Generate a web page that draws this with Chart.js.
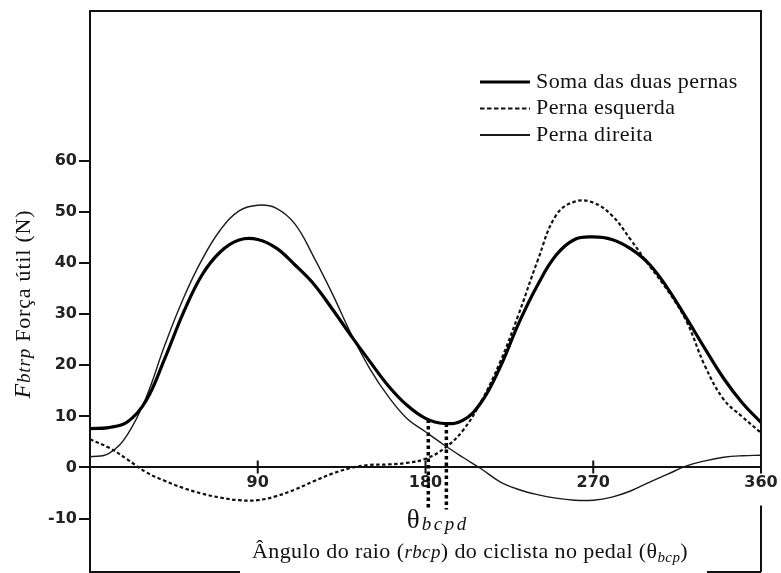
<!DOCTYPE html>
<html>
<head>
<meta charset="utf-8">
<title>Força útil ao longo do ciclo de pedalada</title>
<style>
  html, body { margin: 0; padding: 0; background: #ffffff; }
  #wrap { width: 781px; height: 573px; }
</style>
<script src="https://cdn.jsdelivr.net/npm/chart.js@4.4.1/dist/chart.umd.min.js"></script>
</head>
<body>
<div id="wrap"><canvas id="chart" width="781" height="573"></canvas></div>
<script>
// Crank angle (degrees) at which each force value is given
const angles = [0, 10, 20, 30, 40, 50, 60, 70, 80, 90, 100, 110, 120, 130, 140, 150, 160, 170, 180,
                190, 200, 210, 220, 230, 240, 250, 260, 270, 280, 290, 300, 310, 320, 330, 340, 350, 360];

// Useful force (N) – sum of both legs
const sumLegs = [7.6, 7.8, 8.9, 13.0, 21.2, 30.2, 37.6, 42.2, 44.5, 44.6, 42.9, 39.6, 35.9, 31.0, 25.8, 20.8, 16.0, 12.2, 9.6,
                 8.6, 9.2, 12.8, 19.6, 28.2, 35.6, 41.5, 44.6, 45.1, 44.6, 42.8, 39.8, 35.0, 29.2, 23.2, 17.4, 12.6, 8.8];

// Useful force (N) – left leg
const leftLeg = [5.5, 3.9, 1.6, -0.9, -2.6, -4.0, -5.1, -5.9, -6.4, -6.4, -5.6, -4.3, -2.7, -1.2, -0.1, 0.5, 0.6, 0.9, 1.7,
                 3.7, 7.2, 13.0, 20.6, 30.0, 40.3, 49.3, 52.0, 51.8, 49.3, 44.6, 39.5, 34.6, 28.6, 19.8, 13.3, 9.9, 6.8];

// Useful force (N) – right leg
const rightLeg = [2.1, 2.7, 6.4, 13.6, 23.8, 33.0, 40.6, 46.5, 50.2, 51.3, 50.7, 47.6, 41.2, 34.0, 26.2, 19.4, 13.9, 9.6, 7.0,
                  4.4, 2.0, -0.3, -2.8, -4.3, -5.3, -6.0, -6.4, -6.4, -5.8, -4.6, -2.9, -1.3, 0.3, 1.3, 2.0, 2.3, 2.4];

const seriesLabels = ['Soma das duas pernas', 'Perna esquerda', 'Perna direita'];

// Tick labels on both axes
const xTickValues = [90, 180, 270, 360];
const yTickValues = [-10, 0, 10, 20, 30, 40, 50, 60];

// Angles marked θbcpd (dotted drop lines from the minimum of the sum curve)
const markerAngles = [181.5, 191.2];
const markerTops = [9.4, 8.6];
const markerBottom = -8.2;

const ink = '#111111';
const serif = '"Liberation Serif", "Times New Roman", serif';
const tickFont = { family: 'DejaVu Sans', weight: 'bold', size: 16 };

function points(values) {
  return angles.map((a, i) => ({ x: a, y: values[i] }));
}

// Draws a run of text pieces with different fonts one after another
function runWidth(ctx, parts) {
  let w = 0;
  parts.forEach(p => { ctx.font = p.font; w += ctx.measureText(p.text).width; });
  return w;
}
function drawRun(ctx, parts, x, y) {
  let cx = x;
  parts.forEach(p => {
    ctx.font = p.font;
    ctx.fillText(p.text, cx, y + (p.dy || 0));
    cx += ctx.measureText(p.text).width;
  });
}

// Frame around the plot and tick marks crossing the zero line
const framePlugin = {
  id: 'frame',
  afterDraw(chart) {
    const { ctx, chartArea: a, scales: { x, y } } = chart;
    const z = y.getPixelForValue(0);
    ctx.save();
    ctx.strokeStyle = ink;
    ctx.lineWidth = 2;
    ctx.beginPath();
    ctx.moveTo(a.left - 1, a.top);
    ctx.lineTo(a.right + 1, a.top);
    ctx.moveTo(a.right, a.top);
    ctx.lineTo(a.right, z + 3);
    ctx.moveTo(a.right, z + 38);
    ctx.lineTo(a.right, a.bottom);
    ctx.moveTo(a.left, a.bottom);
    ctx.lineTo(a.left + 150, a.bottom);
    ctx.moveTo(a.right - 54, a.bottom);
    ctx.lineTo(a.right, a.bottom);
    ctx.stroke();
    ctx.beginPath();
    xTickValues.forEach(v => {
      const px = x.getPixelForValue(v);
      ctx.moveTo(px, z - 7);
      ctx.lineTo(px, z + 6);
    });
    ctx.stroke();
    ctx.restore();
  }
};

// Legend in the upper right corner of the plot
const legendPlugin = {
  id: 'cornerLegend',
  afterDraw(chart) {
    const { ctx, chartArea: a } = chart;
    const x0 = a.right - 281, x1 = a.right - 231, tx = a.right - 225;
    const rows = [a.top + 71, a.top + 97.5, a.top + 124];
    ctx.save();
    ctx.textBaseline = 'middle';
    ctx.textAlign = 'left';
    ctx.fillStyle = ink;
    chart.data.datasets.slice(0, 3).forEach((ds, i) => {
      ctx.strokeStyle = ds.borderColor;
      ctx.lineWidth = Math.max(ds.borderWidth, 2);
      ctx.setLineDash(ds.borderDash ? [4.5, 2.5] : []);
      ctx.beginPath();
      ctx.moveTo(x0, rows[i]);
      ctx.lineTo(x1, rows[i]);
      ctx.stroke();
      ctx.setLineDash([]);
      ctx.font = '22px ' + serif;
      ctx.letterSpacing = '0.4px';
      ctx.fillText(ds.label, tx, rows[i]);
    });
    ctx.restore();
  }
};

// Axis titles and the θbcpd mark
const titlesPlugin = {
  id: 'titles',
  afterDraw(chart) {
    const { ctx, chartArea: a, scales: { x, y } } = chart;
    ctx.save();
    ctx.fillStyle = ink;
    ctx.textAlign = 'left';
    ctx.textBaseline = 'alphabetic';

    // y title, rotated
    ctx.letterSpacing = '0.8px';
    const yParts = [
      { text: 'F', font: 'italic 24px ' + serif },
      { text: 'btrp', font: 'italic 19px ' + serif },
      { text: ' Força útil (N)', font: '22px ' + serif }
    ];
    const yw = runWidth(ctx, yParts);
    ctx.save();
    ctx.translate(23, 304);
    ctx.rotate(-Math.PI / 2);
    drawRun(ctx, yParts, -yw / 2, 7);
    ctx.restore();

    // x title
    ctx.letterSpacing = '0.4px';
    const xParts = [
      { text: 'Ângulo do raio (', font: '22px ' + serif },
      { text: 'rbcp', font: 'italic 19px ' + serif },
      { text: ') do ciclista no pedal (', font: '22px ' + serif },
      { text: 'θ', font: '22px ' + serif },
      { text: 'bcp', font: 'italic 15px ' + serif, dy: 4 },
      { text: ')', font: '22px ' + serif }
    ];
    const xw = runWidth(ctx, xParts);
    drawRun(ctx, xParts, a.left + 380 - xw / 2, a.bottom - 14);

    // θbcpd
    ctx.letterSpacing = '0px';
    const tx = x.getPixelForValue(170);
    const ty = y.getPixelForValue(-11.9);
    ctx.font = '27px ' + serif;
    ctx.fillText('θ', tx, ty);
    const tw = ctx.measureText('θ').width;
    ctx.letterSpacing = '2.5px';
    ctx.font = 'italic 19px ' + serif;
    ctx.fillText('bcpd', tx + tw + 2, ty + 2);
    ctx.restore();
  }
};

const markerSets = markerAngles.map((ang, i) => ({
  label: 'θbcpd ' + (i + 1),
  data: [{ x: ang, y: markerTops[i] }, { x: ang, y: markerBottom }],
  borderColor: '#000000',
  borderWidth: 3.5,
  borderDash: [3.5, 3],
  pointRadius: 0,
  tension: 0
}));

new Chart(document.getElementById('chart'), {
  type: 'line',
  data: {
    datasets: [
      {
        label: seriesLabels[0],
        data: points(sumLegs),
        borderColor: '#000000',
        borderWidth: 3.2,
        pointRadius: 0,
        tension: 0.4
      },
      {
        label: seriesLabels[1],
        data: points(leftLeg),
        borderColor: '#111111',
        borderWidth: 2.2,
        borderDash: [3.5, 2.5],
        pointRadius: 0,
        tension: 0.4
      },
      {
        label: seriesLabels[2],
        data: points(rightLeg),
        borderColor: '#1a1a1a',
        borderWidth: 1.4,
        pointRadius: 0,
        tension: 0.4
      },
      ...markerSets
    ]
  },
  options: {
    responsive: false,
    animation: false,
    devicePixelRatio: 1,
    events: [],
    layout: { padding: { left: 0, right: 20, top: 11, bottom: 1 } },
    plugins: {
      legend: { display: false },
      tooltip: { enabled: false }
    },
    scales: {
      x: {
        type: 'linear',
        min: 0,
        max: 360,
        position: { y: 0 },
        afterBuildTicks: s => { s.ticks = xTickValues.map(v => ({ value: v })); },
        afterFit: s => { s.height = 0; s.paddingLeft = 0; s.paddingRight = 0; },
        grid: { display: false, drawTicks: false },
        border: { display: true, color: ink, width: 2 },
        ticks: { font: tickFont, color: '#222222', padding: 6, autoSkip: false, maxRotation: 0 }
      },
      y: {
        type: 'linear',
        min: -20.44,
        max: 89.28,
        afterBuildTicks: s => { s.ticks = yTickValues.map(v => ({ value: v })); },
        afterFit: s => { s.width = 90; s.paddingTop = 0; s.paddingBottom = 0; },
        grid: { drawOnChartArea: false, drawTicks: true, tickLength: 11, color: ink, lineWidth: 2 },
        border: { display: true, color: ink, width: 2 },
        ticks: { font: tickFont, color: '#222222', padding: 2 }
      }
    }
  },
  plugins: [framePlugin, legendPlugin, titlesPlugin]
});
</script>
</body>
</html>
